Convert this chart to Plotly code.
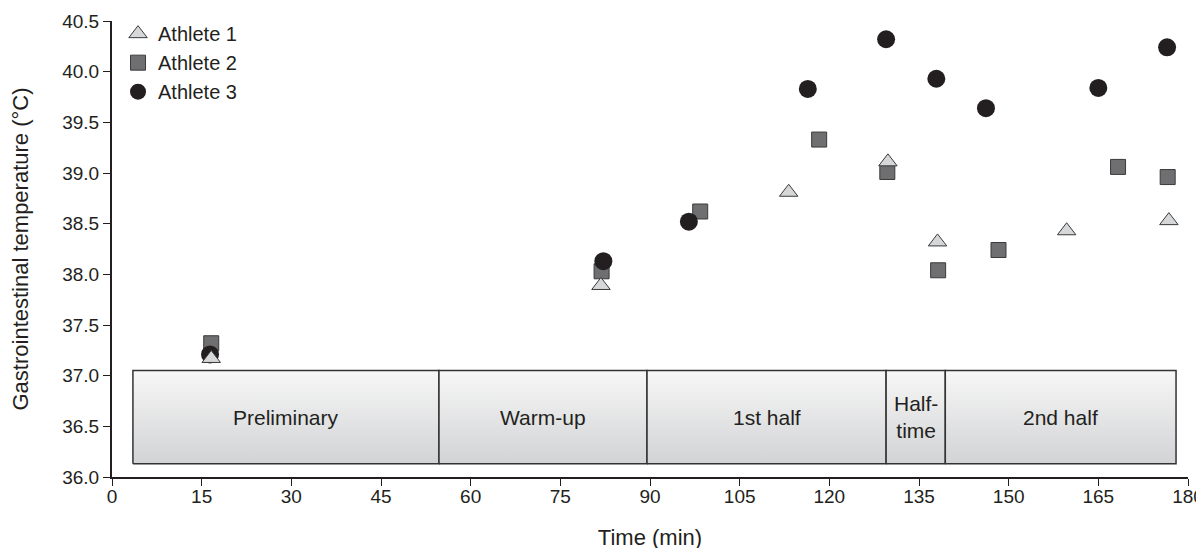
import plotly.graph_objects as go

# ---- data ----
a1_time = [16.6, 81.8, 113.2, 129.8, 138.1, 159.7, 176.8]
a1_temp = [37.17, 37.89, 38.81, 39.11, 38.32, 38.43, 38.53]

a2_time = [16.6, 81.9, 98.4, 118.3, 129.7, 138.2, 148.3, 168.3, 176.6]
a2_temp = [37.32, 38.03, 38.62, 39.33, 39.01, 38.04, 38.24, 39.06, 38.96]

a3_time = [16.4, 82.2, 96.5, 116.4, 129.5, 137.9, 146.2, 165.0, 176.5]
a3_temp = [37.21, 38.13, 38.52, 39.83, 40.32, 39.93, 39.64, 39.84, 40.24]

phase_names = ["Preliminary", "Warm-up", "1st half", "Half-<br>time", "2nd half"]
phase_edges = [3.5, 54.7, 89.5, 129.5, 139.4, 178.0]
box_bottom, box_top = 36.13, 37.05

y_ticks = [36.0, 36.5, 37.0, 37.5, 38.0, 38.5, 39.0, 39.5, 40.0, 40.5]
x_ticks = list(range(0, 181, 15))

FONT = "Liberation Sans, Arial, sans-serif"
TXT = "#231f20"

fig = go.Figure()

# phase boxes with vertical gradient
for i, name in enumerate(phase_names):
    x0, x1 = phase_edges[i], phase_edges[i + 1]
    fig.add_trace(go.Scatter(
        x=[x0, x1, x1, x0, x0], y=[box_bottom, box_bottom, box_top, box_top, box_bottom],
        mode="lines", fill="toself",
        fillgradient=dict(type="vertical", colorscale=[[0, "#d2d3d5"], [1, "#f7f7f7"]]),
        line=dict(color="#333333", width=1.5),
        hoverinfo="skip", showlegend=False,
    ))
    fig.add_annotation(x=(x0 + x1) / 2, y=(box_bottom + box_top) / 2, text=name,
                       showarrow=False, font=dict(family=FONT, size=21, color=TXT))

# markers (drawn square, circle, triangle so triangle is on top)
fig.add_trace(go.Scatter(
    x=a2_time, y=a2_temp, mode="markers", name="Athlete 2", legendrank=2,
    marker=dict(symbol="square", size=15, color="#6f6f72", line=dict(color="#3a3a3a", width=1)),
))
fig.add_trace(go.Scatter(
    x=a3_time, y=a3_temp, mode="markers", name="Athlete 3", legendrank=3,
    marker=dict(symbol="circle", size=18, color="#231f20", line=dict(color="#231f20", width=0)),
))
fig.add_trace(go.Scatter(
    x=a1_time, y=a1_temp, mode="markers", name="Athlete 1", legendrank=1,
    marker=dict(symbol="triangle-up", size=16, color="#d6d7d9", line=dict(color="#3a3a3a", width=1)),
))

fig.update_layout(
    width=1204, height=548,
    margin=dict(l=104, r=24, t=13, b=79, autoexpand=False),
    paper_bgcolor="white", plot_bgcolor="white",
    font=dict(family=FONT, size=19, color=TXT),
    showlegend=True,
    legend=dict(x=0.0056, y=1.015, xanchor="left", yanchor="top",
                bgcolor="rgba(0,0,0,0)", font=dict(size=20), itemwidth=30,
                tracegroupgap=0),
)
fig.update_xaxes(
    range=[0, 180], tickvals=x_ticks, showline=True, linewidth=2, linecolor=TXT,
    ticks="outside", ticklen=7, tickwidth=1.2, tickcolor=TXT, showgrid=False, zeroline=False,
    title=dict(text="Time (min)", font=dict(size=22), standoff=24),
    tickfont=dict(size=19), automargin=False, ticklabelstandoff=-6,
)
fig.update_yaxes(
    range=[36, 40.5], tickvals=y_ticks, tickformat=".1f", showline=True, linewidth=2, linecolor=TXT,
    ticks="outside", ticklen=7, tickwidth=1.2, tickcolor=TXT, showgrid=False, zeroline=False,
    title=dict(text="Gastrointestinal temperature (°C)", font=dict(size=22), standoff=32),
    tickfont=dict(size=19), automargin=False,
)

fig.write_html("out.html")
